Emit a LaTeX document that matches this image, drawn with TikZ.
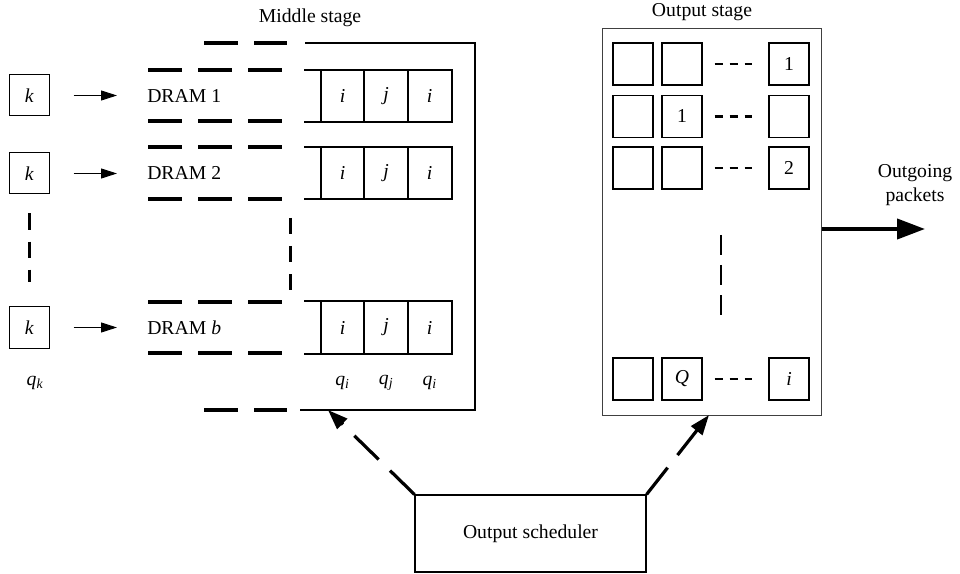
\documentclass[tikz,border=0pt]{standalone}
\usepackage{fontspec}
\setmainfont{Liberation Serif}
\usetikzlibrary{arrows.meta,positioning}

\begin{document}
\begin{tikzpicture}[x=0.25mm,y=-0.25mm,
  every node/.style={font=\fontsize{14}{17}\selectfont},
  kbox/.style={draw,line width=0.25mm,minimum width=9.75mm,minimum height=10.25mm,inner sep=0pt},
  qcell/.style={draw,line width=0.5mm,minimum width=10.9mm,minimum height=13mm,inner sep=0pt,outer sep=0pt},
  obox/.style={draw,line width=0.35mm,minimum width=10mm,minimum height=10.5mm,inner sep=0pt},
  karrow/.style={-{Triangle[length=4mm,width=2.5mm]},line width=0.25mm},
  wall/.style={line width=0.5mm},
  bigdash/.style={line width=0.8mm,dash pattern=on 8.5mm off 4mm},
  smalldash/.style={line width=0.75mm,dash pattern=on 4mm off 3mm},
  tinydash/.style={line width=0.55mm,dash pattern=on 2mm off 1.75mm},
  schedarrow/.style={bigdash,-{Triangle[length=5mm,width=3.5mm]}}]
 \useasboundingbox (0,0) rectangle (960,574);

 \node[kbox] (k1) at (29.5,95.5) {\textit{k}};
 \node[kbox] (k2) at (29.5,173.5) {\textit{k}};
 \node[kbox] (k3) at (29.5,327.5) {\textit{k}};
 \node (qk) at (35,383) {\textit{q\textsubscript{k}}};
 \draw[smalldash,shorten <=4.75mm,shorten >=6mm] (k2.south) -- (k3.north);

 \node[anchor=west,inner sep=0pt] (d1) at (147,96) {DRAM 1};
 \node[anchor=west,inner sep=0pt] (d2) at (147,173) {DRAM 2};
 \node[anchor=west,inner sep=0pt] (d3) at (147,327.5) {DRAM \textit{b}};
 \foreach \k/\d in {k1/d1,k2/d2,k3/d3}
  \draw[karrow,shorten <=6mm,shorten >=7.5mm] (\k.east) -- (\k.east -| \d.west);
 \foreach \t/\b in {70/121,147/199,302/353} {
  \draw[bigdash] (148,\t) -- (282,\t);
  \draw[bigdash] (148,\b) -- (282,\b);
 }

 \foreach \y/\n in {96/1,173/2,327.5/3} {
  \node[qcell] (a\n) at (342.5,\y) {\textit{i}};
  \node[qcell,right=0pt of a\n] (b\n) {\textit{j}};
  \node[qcell,right=0pt of b\n] (c\n) {\textit{i}};
  \draw[wall] (a\n.north west) -- ++(-17,0);
  \draw[wall] (a\n.south west) -- ++(-17,0);
 }
 \node (qa) at (a3.south |- 0,383) {\textit{q\textsubscript{i}}};
 \node (qb) at (b3.south |- 0,383) {\textit{q\textsubscript{j}}};
 \node (qc) at (c3.south |- 0,383) {\textit{q\textsubscript{i}}};

 \draw[wall] (305,43) -- (475,43) -- (475,410) -- (300,410);
 \draw[bigdash] (204,43) -- (287,43);
 \draw[bigdash] (204,410) -- (287,410);
 \draw[smalldash] (290,218) -- (290,290);
 \node (midlabel) at (310,18) {Middle stage};
 \coordinate (midbot) at (328,410);

 \node[draw=black!75,line width=0.25mm,minimum width=54.75mm,minimum height=96.5mm,inner sep=0pt] (out) at (711.5,222) {};
 \node (outlabel) at (702,12) {Output stage};
 \foreach \y/\r/\lb/\lc in {64/1//1,116.5/2/1/,168/3//2,379/4/\textit{Q}/\textit{i}} {
  \node[obox] (o\r a) at (633,\y) {};
  \node[obox] (o\r b) at (682,\y) {\lb};
  \node[obox] (o\r c) at (789,\y) {\lc};
  \draw[tinydash,shorten <=3mm,shorten >=4mm] (o\r b) -- (o\r c);
 }
 \draw[line width=0.55mm,dash pattern=on 5mm off 2.5mm] (721,235) -- (721,315);
 \coordinate (outbot) at (709,415);

 \coordinate (outgo) at (925,229);
 \draw[line width=1mm,-{Triangle[length=7mm,width=5mm]}] (out.east |- outgo) -- (outgo);
 \node[align=center] (outtext) at (915,185) {Outgoing\\packets};

 \node[draw,line width=0.3mm,minimum width=57.75mm,minimum height=19.25mm,inner sep=0pt] (sched) at (530.5,533.5) {Output scheduler};
 \draw[schedarrow] (sched.north west) -- (midbot);
 \draw[schedarrow] (sched.north east) -- (outbot);
\end{tikzpicture}
\end{document}
